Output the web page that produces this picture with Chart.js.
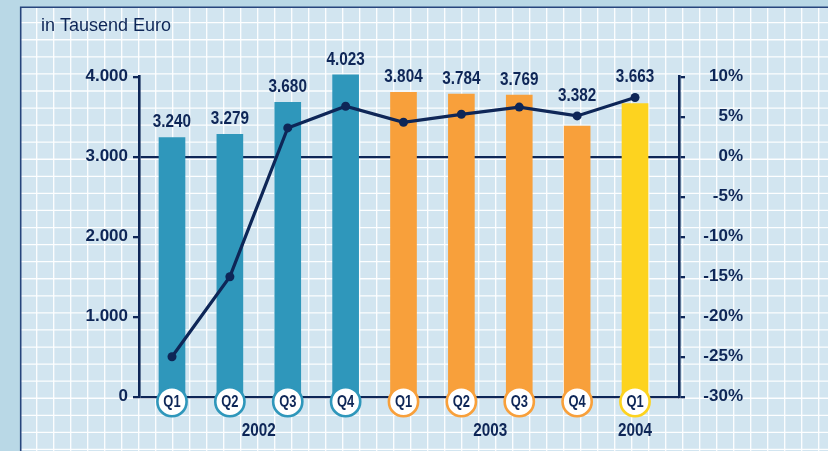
<!DOCTYPE html>
<html>
<head>
<meta charset="utf-8">
<script src="https://cdn.jsdelivr.net/npm/chart.js@4/dist/chart.umd.min.js"></script>
<style>
  html, body { margin: 0; padding: 0; background: #b9d8e6; }
  #c { display: block; }
</style>
</head>
<body>
<canvas id="c" width="828" height="451"></canvas>
<script>
// ---- data ----
const quarters = ['Q1', 'Q2', 'Q3', 'Q4', 'Q1', 'Q2', 'Q3', 'Q4', 'Q1'];
const yearOf   = [0, 0, 0, 0, 1, 1, 1, 1, 2];
const years    = ['2002', '2003', '2004'];
const revenue  = [3240, 3279, 3680, 4023, 3804, 3784, 3769, 3382, 3663];   // in Tausend Euro
const growth   = [-25, -15, 3.6, 6.3, 4.3, 5.3, 6.2, 5.1, 7.4];          // in %
const leftTicks  = [0, 1000, 2000, 3000, 4000];
const rightTicks = [-30, -25, -20, -15, -10, -5, 0, 5, 10];
const title = 'in Tausend Euro';

// ---- styles ----
const NAVY = '#0e2657';
const yearColors = ['#2f97bb', '#f8a03b', '#fdd31f'];
const barColors = yearOf.map(y => yearColors[y]);
const FONT = "'Liberation Sans', Arial, sans-serif";

function fmt(v) {
  return String(v).replace(/\B(?=(\d{3})+(?!\d))/g, '.');
}

const backgroundPlugin = {
  id: 'bg',
  beforeDraw(chart) {
    const ctx = chart.ctx, W = chart.width, H = chart.height;
    ctx.save();
    ctx.fillStyle = '#b9d8e6';
    ctx.fillRect(0, 0, W, H);
    const px = 20.7, py = 7.3;
    ctx.fillStyle = '#d2e5f0';
    ctx.fillRect(px, py, W - px, H - py);
    ctx.strokeStyle = 'rgba(255,255,255,0.95)';
    ctx.lineWidth = 1.3;
    ctx.beginPath();
    for (let x = 36.7; x < W; x += 17.0) { ctx.moveTo(x, py); ctx.lineTo(x, H); }
    for (let y = 22.7; y < H; y += 17.07) { ctx.moveTo(px, y); ctx.lineTo(W, y); }
    ctx.stroke();
    ctx.strokeStyle = '#27457c';
    ctx.lineWidth = 1.6;
    ctx.beginPath();
    ctx.moveTo(px, H); ctx.lineTo(px, py); ctx.lineTo(W, py);
    ctx.stroke();
    ctx.restore();
  }
};

const decorPlugin = {
  id: 'decor',
  afterDatasetsDraw(chart) {
    const ctx = chart.ctx;
    const xs = chart.scales.x, ys = chart.scales.y, y1 = chart.scales.y1;
    const bottom = chart.chartArea.bottom;
    ctx.save();
    // value labels above bars
    revenue.forEach((v, i) => {
      const x = xs.getPixelForValue(i);
      const barTop = ys.getPixelForValue(v);
      const pt = y1.getPixelForValue(growth[i]);
      const ly = Math.min(barTop, pt - 5) - 15;
      ctx.save();
      ctx.translate(x, ly);
      ctx.scale(0.85, 1);
      ctx.font = 'bold 18px ' + FONT;
      ctx.fillStyle = NAVY;
      ctx.textAlign = 'center';
      ctx.textBaseline = 'middle';
      ctx.fillText(fmt(v), 0, 0);
      ctx.restore();
    });
    // quarter circles
    quarters.forEach((q, i) => {
      const x = xs.getPixelForValue(i);
      const cy = bottom + 5;
      ctx.beginPath();
      ctx.arc(x, cy, 14.6, 0, Math.PI * 2);
      ctx.fillStyle = '#ffffff';
      ctx.fill();
      ctx.lineWidth = 2.6;
      ctx.strokeStyle = barColors[i];
      ctx.stroke();
      ctx.save();
      ctx.translate(x, cy + 1);
      ctx.scale(0.76, 1);
      ctx.font = 'bold 17px ' + FONT;
      ctx.fillStyle = NAVY;
      ctx.textAlign = 'center';
      ctx.textBaseline = 'middle';
      ctx.fillText(q, 0, 0);
      ctx.restore();
    });
    // year labels
    years.forEach((yr, k) => {
      const idx = yearOf.map((y, i) => y === k ? i : -1).filter(i => i >= 0);
      const x = idx.reduce((s, i) => s + xs.getPixelForValue(i), 0) / idx.length;
      ctx.save();
      ctx.translate(x, bottom + 34.5);
      ctx.scale(0.85, 1);
      ctx.font = 'bold 18px ' + FONT;
      ctx.fillStyle = NAVY;
      ctx.textAlign = 'center';
      ctx.textBaseline = 'middle';
      ctx.fillText(yr, 0, 0);
      ctx.restore();
    });
    ctx.restore();
  }
};

new Chart(document.getElementById('c'), {
  data: {
    datasets: [
      {
        type: 'line',
        label: 'Veränderung',
        data: growth.map((g, i) => ({ x: i, y: g })),
        yAxisID: 'y1',
        borderColor: NAVY,
        borderWidth: 3.2,
        pointRadius: 4.5,
        pointBackgroundColor: NAVY,
        pointBorderWidth: 0,
        tension: 0,
        order: 0,
        clip: false
      },
      {
        type: 'bar',
        label: 'Umsatz',
        data: revenue.map((v, i) => ({ x: i, y: v })),
        yAxisID: 'y',
        backgroundColor: barColors,
        borderWidth: 0,
        barThickness: 26,
        order: 1,
        clip: false
      }
    ]
  },
  options: {
    responsive: false,
    devicePixelRatio: 1,
    animation: false,
    layout: { padding: { left: 41, top: 15, right: 85, bottom: 54.3 } },
    plugins: {
      legend: { display: false },
      tooltip: { enabled: false },
      title: {
        display: true,
        text: title,
        align: 'start',
        color: NAVY,
        font: { family: FONT, size: 18, weight: 'normal', lineHeight: 1.2 },
        padding: { top: 0, bottom: 40.1 }
      }
    },
    scales: {
      x: {
        type: 'linear',
        display: false,
        offset: false,
        bounds: 'ticks',
        min: -0.57,
        max: 8.76,
        grid: { offset: false }
      },
      y: {
        type: 'linear',
        position: 'left',
        min: 0,
        max: 4000,
        afterBuildTicks(scale) { scale.ticks = leftTicks.map(v => ({ value: v })); },
        afterFit(scale) { scale.width = 98; },
        ticks: {
          color: NAVY,
          padding: 5,
          font: { family: FONT, size: 17, weight: 'bold' },
          callback: v => fmt(v)
        },
        grid: {
          drawOnChartArea: true,
          drawTicks: true,
          tickLength: 6,
          tickColor: NAVY,
          lineWidth: 2.3,
          color: ctx => (ctx.tick && (ctx.tick.value === 3000 || ctx.tick.value === 0)) ? NAVY : 'rgba(0,0,0,0)'
        },
        border: { display: true, color: NAVY, width: 2.6 }
      },
      y1: {
        type: 'linear',
        position: 'right',
        min: -30,
        max: 10,
        afterBuildTicks(scale) { scale.ticks = rightTicks.map(v => ({ value: v })); },
        afterFit(scale) { scale.width = 64; },
        ticks: {
          color: NAVY,
          crossAlign: 'far',
          font: { family: FONT, size: 17, weight: 'bold' },
          callback: v => v + '%'
        },
        grid: {
          drawOnChartArea: false,
          drawTicks: true,
          tickLength: 6,
          tickColor: NAVY,
          lineWidth: 2.3,
          color: NAVY
        },
        border: { display: true, color: NAVY, width: 2.6 }
      }
    }
  },
  plugins: [backgroundPlugin, decorPlugin]
});
</script>
</body>
</html>
